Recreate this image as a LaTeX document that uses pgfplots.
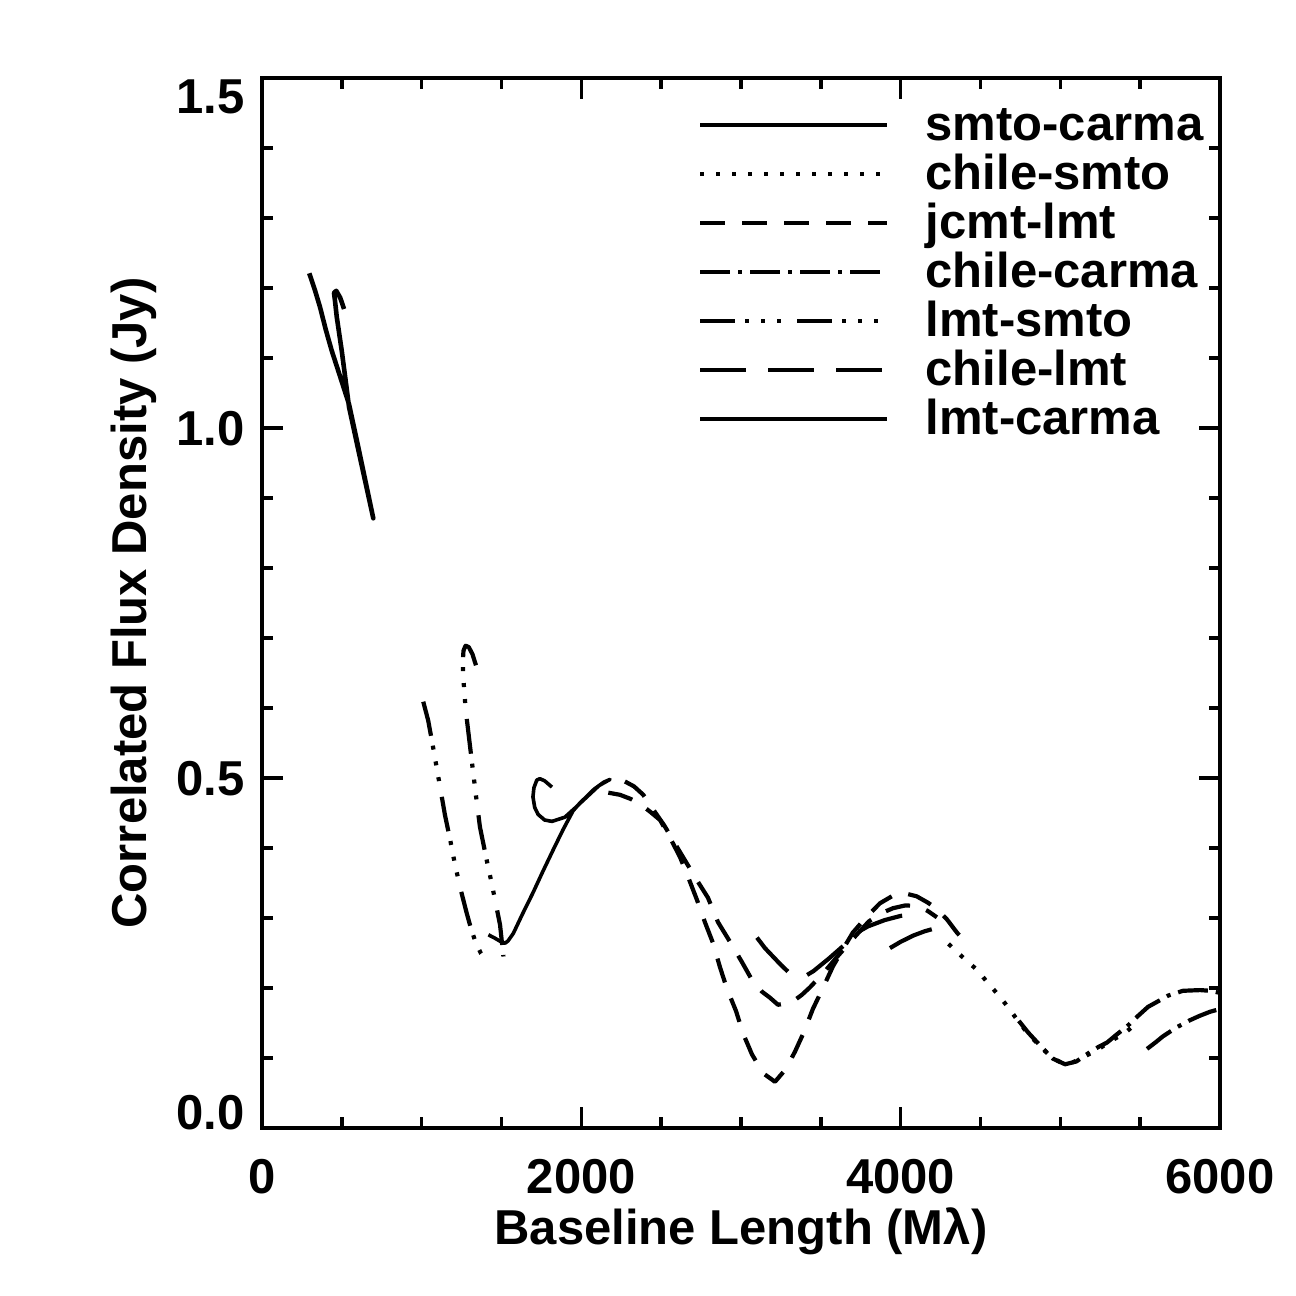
\documentclass[border=0pt]{standalone}
\usepackage{fontspec}
\setmainfont{Liberation Sans}
\usepackage{pgfplots}
\pgfplotsset{compat=1.18}
\newcommand{\F}{\fontsize{49bp}{59bp}\selectfont\bfseries}
\pgfplotsset{
 smtocarma/.style={black, line width=4.6bp},
 chilesmto/.style={black, line width=4.2bp, dash pattern=on 4bp off 12bp},
 jcmtlmt/.style={black, line width=4.2bp, dash pattern=on 25bp off 17bp},
 chilecarma/.style={black, line width=4.2bp, dash pattern=on 30bp off 8bp on 4bp off 8bp},
 lmtsmto/.style={black, line width=4.2bp, dash pattern=on 35bp off 10bp on 4bp off 12bp on 4bp off 12bp on 4bp off 16bp},
 chilelmt/.style={black, line width=4.2bp, dash pattern=on 46bp off 22bp},
 lmtcarma/.style={black, line width=3.6bp},
}
\begin{document}
\begin{tikzpicture}
\useasboundingbox (0,0) rectangle (1296bp,1296bp);
\begin{axis}[
 at={(262bp,168bp)}, anchor=south west,
 scale only axis, width=958bp, height=1050bp,
 xmin=0, xmax=6000, ymin=0, ymax=1.5,
 xtick={0,2000,4000,6000}, xticklabels={0,2000,4000,6000},
 ytick={0,0.5,1,1.5},
 yticklabels={{\raisebox{16bp}{0.0}},0.5,1.0,{\raisebox{-18bp}{1.5}}},
 minor x tick num=3, minor y tick num=4,
 scaled ticks=false,
 tick align=inside, tick pos=both,
 major tick length=21bp, minor tick length=11bp,
 every tick/.style={black, line width=3.5bp},
 axis line style={line width=4bp},
 /pgf/number format/assume math mode=true,
 tick label style={font=\F},
 xticklabel style={anchor=north, inner sep=0pt, text height=36bp, text depth=0bp, yshift=-29bp},
 yticklabel style={anchor=east, inner sep=0pt, text height=36bp, text depth=0bp, xshift=-17bp},
 xlabel={Baseline Length (Mλ)},
 xlabel style={font=\F, at={(axis description cs:0.5,-0.1114)}, anchor=base, inner sep=0pt},
 ylabel={Correlated Flux Density (Jy)},
 ylabel style={font=\F, at={(axis description cs:-0.121,0.5)}, anchor=base, inner sep=0pt},
 no markers,
 every axis plot/.append style={line join=round},
 legend style={at={(axis description cs:0.4551,0.9752)}, anchor=north west, draw=none, fill=none,
   inner sep=0pt, outer sep=0pt, row sep=0bp, column sep=36bp, font=\F,
   nodes={inner sep=0pt, text height=36bp, text depth=13bp},
   cells={anchor=base west}},
 legend image code/.code={\draw[#1] (0bp,15bp) -- (187bp,15bp);},
]
% smto-carma
\addplot[smtocarma] coordinates {(514,1.170) (490,1.186) (465,1.196) (451,1.193) (458,1.180) (468,1.159) (499,1.111) (526,1.064) (545,1.030) (600,0.972) (650,0.920) (697,0.871) (650,0.922) (600,0.976) (545,1.034) (490,1.073) (436,1.111) (400,1.140) (363,1.173) (330,1.198) (296,1.221)};
\addlegendentry{smto-carma}
% chile-smto
\addplot[chilesmto] coordinates {(4300,0.263) (4350,0.252) (4403,0.241) (4478,0.226) (4547,0.207) (4616,0.189) (4678,0.171) (4741,0.151) (4800,0.134) (4885,0.114) (4950,0.100) (5017,0.092) (5080,0.094) (5150,0.102) (5229,0.111) (5300,0.122) (5405,0.136) (5470,0.148)};
\addlegendentry{chile-smto}
% jcmt-lmt
\addplot[jcmtlmt] coordinates {(2169,0.479) (2242,0.476) (2310,0.470) (2367,0.463) (2430,0.452) (2493,0.440) (2555,0.415) (2618,0.387) (2668,0.359) (2724,0.326) (2774,0.294) (2825,0.264) (2868,0.230) (2912,0.199) (2969,0.167) (3013,0.135) (3069,0.105) (3140,0.078) (3213,0.066) (3280,0.084) (3338,0.109) (3394,0.137) (3450,0.170) (3513,0.200) (3576,0.231) (3640,0.256) (3700,0.279) (3780,0.300) (3870,0.321) (3952,0.332) (4030,0.335) (4100,0.331) (4170,0.322) (4227,0.313) (4290,0.298) (4353,0.279) (4434,0.259)};
\addlegendentry{jcmt-lmt}
% chile-carma
\addplot[chilecarma] coordinates {(4740,0.153) (4800,0.136) (4885,0.115) (4954,0.099) (5030,0.091) (5100,0.095) (5170,0.106) (5240,0.116) (5292,0.122) (5350,0.133) (5417,0.145) (5486,0.160) (5549,0.173) (5620,0.182) (5674,0.189) (5768,0.196) (5875,0.197) (5940,0.196) (6000,0.193)};
\addlegendentry{chile-carma}
% lmt-smto
\addplot[lmtsmto] coordinates {(1010,0.609) (1041,0.582) (1073,0.542) (1110,0.494) (1146,0.447) (1180,0.410) (1209,0.376) (1245,0.340) (1282,0.307) (1310,0.284) (1340,0.264) (1370,0.250) (1403,0.240)};
\addlegendentry{lmt-smto}
% chile-lmt
\addplot[chilelmt] coordinates {(3100,0.272) (3150,0.257) (3200,0.245) (3250,0.233) (3296,0.223) (3340,0.216) (3380,0.214) (3453,0.224) (3550,0.242) (3650,0.262) (3726,0.279) (3795,0.288) (3900,0.297) (4000,0.303) (4077,0.305)};
\addlegendentry{chile-lmt}
% lmt-carma
\addplot[lmtcarma] coordinates {(1816,0.487) (1770,0.496) (1740,0.499) (1721,0.497) (1703,0.486) (1697,0.473) (1708,0.458) (1729,0.448) (1770,0.440) (1816,0.438) (1897,0.444) (1960,0.457) (2035,0.473) (2110,0.489) (2180,0.498) (2140,0.494) (2080,0.484) (2035,0.474) (1990,0.464) (1948,0.453) (1885,0.426) (1823,0.397) (1760,0.367) (1697,0.336) (1630,0.305) (1574,0.278) (1540,0.267) (1522,0.264) (1490,0.267) (1460,0.271) (1418,0.276)};
\addlegendentry{lmt-carma}
% further tracks
\addplot[jcmtlmt, forget plot] coordinates {(2273,0.495) (2330,0.488) (2388,0.476) (2450,0.455) (2520,0.432) (2574,0.411) (2637,0.387) (2724,0.354) (2793,0.329) (2856,0.294) (2931,0.266) (3006,0.237) (3075,0.209) (3130,0.195) (3182,0.186) (3232,0.176) (3320,0.180) (3380,0.190) (3432,0.201) (3526,0.224) (3600,0.244) (3700,0.270) (3800,0.295) (3880,0.307) (3952,0.314) (4030,0.318) (4108,0.317) (4170,0.310) (4227,0.301)};
\addplot[chilecarma, forget plot] coordinates {(5543,0.113) (5600,0.123) (5643,0.131) (5730,0.144) (5812,0.154) (5870,0.160) (5937,0.166) (6000,0.170)};
\addplot[lmtsmto, forget plot] coordinates {(1340,0.661) (1318,0.677) (1295,0.687) (1275,0.689) (1262,0.682) (1258,0.668) (1260,0.645) (1276,0.597) (1313,0.526) (1340,0.475) (1365,0.430) (1407,0.383) (1440,0.348) (1470,0.314) (1491,0.290) (1512,0.245)};
\addplot[chilelmt, forget plot] coordinates {(3933,0.257) (4000,0.266) (4080,0.275) (4150,0.281) (4196,0.284)};
\end{axis}
\end{tikzpicture}
\end{document}
